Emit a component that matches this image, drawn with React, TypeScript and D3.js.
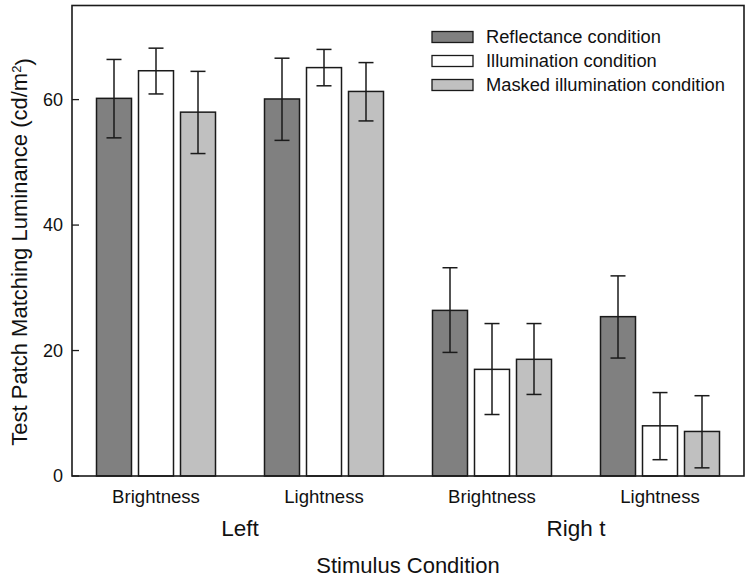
import React from 'react';
import * as d3 from 'd3';

const groups = ['Left-Brightness', 'Left-Lightness', 'Right-Brightness', 'Right-Lightness'];
const categoryLabels = ['Brightness', 'Lightness', 'Brightness', 'Lightness'];
const sideLabels = ['Left', 'Righ t'];
const seriesNames = ['Reflectance condition', 'Illumination condition', 'Masked illumination condition'];
const seriesColors = ['#808080', '#ffffff', '#c0c0c0'];

const reflectance = [60.2, 60.1, 26.4, 25.4];
const reflectanceLow = [53.9, 53.5, 19.7, 18.8];
const reflectanceHigh = [66.4, 66.6, 33.2, 31.9];
const illumination = [64.6, 65.1, 17.0, 8.0];
const illuminationLow = [60.9, 62.2, 9.8, 2.6];
const illuminationHigh = [68.2, 68.0, 24.3, 13.3];
const masked = [58.0, 61.3, 18.6, 7.1];
const maskedLow = [51.4, 56.6, 13.0, 1.3];
const maskedHigh = [64.5, 65.9, 24.3, 12.8];

const yTicks = [0, 20, 40, 60];
const yMax = 75;

const W = 751;
const H = 578;
const L = 72;
const R = 744;
const T = 5.5;
const B = 476;
const FONT = 'Liberation Sans, Arial, Helvetica, sans-serif';
const INK = '#1a1a1a';

export default function App() {
  const x0 = d3.scaleBand<string>().domain(groups).range([L, R]).padding(0);
  const x1 = d3
    .scaleBand<string>()
    .domain(seriesNames)
    .range([21, 147])
    .paddingInner(1 / 6)
    .paddingOuter(1 / 12);
  const y = d3.scaleLinear().domain([0, yMax]).range([B, T]);

  const values = [reflectance, illumination, masked];
  const lows = [reflectanceLow, illuminationLow, maskedLow];
  const highs = [reflectanceHigh, illuminationHigh, maskedHigh];

  const bars: any[] = [];
  groups.forEach((g, gi) => {
    seriesNames.forEach((s, si) => {
      bars.push({ g, s, gi, si, v: values[si][gi], lo: lows[si][gi], hi: highs[si][gi] });
    });
  });

  const bw = x1.bandwidth();
  const cap = 7.5;

  return (
    <svg
      width={W}
      height={H}
      style={{ position: 'absolute', left: 0, top: 0, background: '#fff' }}
      fontFamily={FONT}
    >
      <rect x={0} y={0} width={W} height={H} fill="#fff" />
      {bars.map((b, i) => {
        const bx = (x0(b.g) as number) + (x1(b.s) as number);
        const cx = bx + bw / 2;
        return (
          <g key={i}>
            <rect
              x={bx}
              y={y(b.v)}
              width={bw}
              height={B - y(b.v)}
              fill={seriesColors[b.si]}
              stroke={INK}
              strokeWidth={1.5}
            />
            <line x1={cx} x2={cx} y1={y(b.lo)} y2={y(b.hi)} stroke={INK} strokeWidth={1.5} />
            <line x1={cx - cap} x2={cx + cap} y1={y(b.hi)} y2={y(b.hi)} stroke={INK} strokeWidth={1.5} />
            <line x1={cx - cap} x2={cx + cap} y1={y(b.lo)} y2={y(b.lo)} stroke={INK} strokeWidth={1.5} />
          </g>
        );
      })}
      <rect x={L} y={T} width={R - L} height={B - T} fill="none" stroke={INK} strokeWidth={1.6} />
      {yTicks.map((t) => (
        <g key={t}>
          <line x1={L} x2={L + 7} y1={y(t)} y2={y(t)} stroke={INK} strokeWidth={1.3} />
          <text x={L - 9} y={y(t)} dy="0.35em" textAnchor="end" fontSize={18} fill="#111">
            {t}
          </text>
        </g>
      ))}
      {groups.map((g, gi) => (
        <text
          key={g}
          x={(x0(g) as number) + x0.bandwidth() / 2}
          y={496}
          dy="0.35em"
          textAnchor="middle"
          fontSize={18.6}
          fill="#111"
        >
          {categoryLabels[gi]}
        </text>
      ))}
      {sideLabels.map((s, si) => {
        const a = (x0(groups[si * 2]) as number) + x0.bandwidth() / 2;
        const b = (x0(groups[si * 2 + 1]) as number) + x0.bandwidth() / 2;
        return (
          <text key={s} x={(a + b) / 2} y={528} dy="0.35em" textAnchor="middle" fontSize={22.5} fill="#111">
            {s}
          </text>
        );
      })}
      <text x={(L + R) / 2} y={565} dy="0.35em" textAnchor="middle" fontSize={22} fill="#111">
        Stimulus Condition
      </text>
      <text
        transform={`translate(19, 252) rotate(-90)`}
        dy="0.35em"
        textAnchor="middle"
        fontSize={22}
        fill="#111"
      >
        Test Patch Matching Luminance (cd/m
        <tspan dy="-0.45em" fontSize={13}>2</tspan>
        <tspan dy="0.45em">)</tspan>
      </text>
      {seriesNames.map((s, si) => (
        <g key={s} transform={`translate(432, ${37 + si * 24})`}>
          <rect x={0} y={-5.5} width={41} height={11} fill={seriesColors[si]} stroke={INK} strokeWidth={1.3} />
          <text x={54} y={0} dy="0.35em" fontSize={18.3} fill="#111">
            {s}
          </text>
        </g>
      ))}
    </svg>
  );
}
